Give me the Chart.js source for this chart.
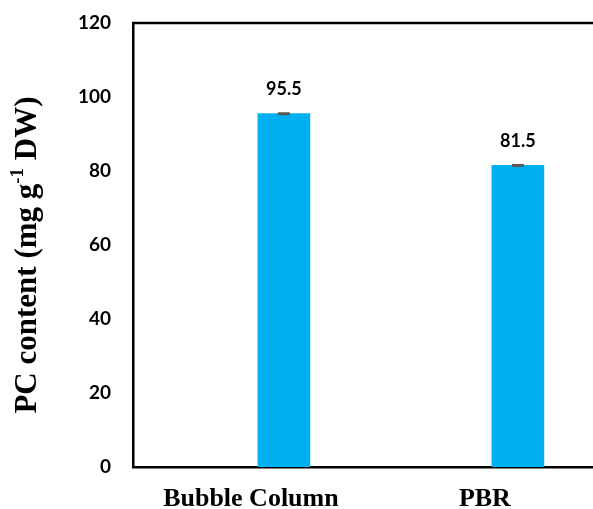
<!DOCTYPE html>
<html>
<head>
<meta charset="utf-8">
<script src="https://cdn.jsdelivr.net/npm/chart.js@4.4.0/dist/chart.umd.min.js"></script>
<style>
  html, body { margin: 0; padding: 0; background: #fff; overflow: hidden; }
  #wrap { width: 593px; height: 509px; position: relative; }
</style>
</head>
<body>
<div id="wrap"><canvas id="pc_chart"></canvas></div>
<script>
// data
const categories = ['Bubble Column', 'PBR'];
const pc_values = [95.5, 81.5];
const pc_errors = [0.2, 0.2];
const y_ticks = [0, 20, 40, 60, 80, 100, 120];

const barColour = '#00B0F0';

// error bars + value labels + top border + y title
const extras = {
    id: 'extras',
    afterDatasetsDraw(chart) {
        const ctx = chart.ctx;
        const ys = chart.scales.y;
        const area = chart.chartArea;
        const meta = chart.getDatasetMeta(0);

        ctx.save();
        // top frame line
        ctx.strokeStyle = '#000';
        ctx.lineWidth = 2.5;
        ctx.beginPath();
        ctx.moveTo(area.left - 1, area.top);
        ctx.lineTo(chart.width, area.top);
        ctx.stroke();

        meta.data.forEach(function (bar, i) {
            var hi = ys.getPixelForValue(pc_values[i] + pc_errors[i]);
            var lo = ys.getPixelForValue(pc_values[i] - pc_errors[i]);
            ctx.strokeStyle = '#595959';
            ctx.lineWidth = 1.5;
            ctx.beginPath();
            ctx.moveTo(bar.x - 6, hi); ctx.lineTo(bar.x + 6, hi);
            ctx.moveTo(bar.x - 6, lo); ctx.lineTo(bar.x + 6, lo);
            ctx.moveTo(bar.x, hi); ctx.lineTo(bar.x, lo);
            ctx.stroke();

            ctx.fillStyle = '#000';
            ctx.font = 'bold 18px Lato';
            ctx.textAlign = 'center';
            ctx.textBaseline = 'middle';
            ctx.fillText(pc_values[i].toFixed(1), bar.x, hi - 24);
        });

        // rotated y title with superscript
        var cy = 255;
        ctx.translate(28, cy);
        ctx.rotate(-Math.PI / 2);
        ctx.fillStyle = '#000';
        ctx.textBaseline = 'middle';
        ctx.textAlign = 'left';
        var main = 'bold 31px "Liberation Serif"';
        var sup = 'bold 19px "Liberation Serif"';
        var parts = [['PC content (mg g', main, 0], ['-1', sup, -10], [' DW)', main, 0]];
        var total = 0;
        parts.forEach(function (p) { ctx.font = p[1]; total += ctx.measureText(p[0]).width; });
        var x = -total / 2;
        parts.forEach(function (p) {
            ctx.font = p[1];
            ctx.fillText(p[0], x, p[2]);
            x += ctx.measureText(p[0]).width;
        });
        ctx.restore();
    }
};

const canvas = document.getElementById('pc_chart');
new Chart(canvas, {
    type: 'bar',
    data: {
        datasets: [{
            label: 'PC content',
            data: pc_values.map((v, i) => ({ x: i, y: v })),
            backgroundColor: barColour,
            borderWidth: 0,
            barThickness: 52,
        }]
    },
    options: {
        responsive: true,
        maintainAspectRatio: false,
        animation: false,
        layout: { padding: { top: 23, right: 0, left: 0, bottom: 0 } },
        plugins: {
            legend: { display: false },
            tooltip: { enabled: false },
        },
        scales: {
            x: {
                type: 'linear',
                offset: false,
                min: -0.645,
                max: 1.321,
                grid: { display: false, drawTicks: false, offset: false },
                border: { color: '#000', width: 2.5 },
                afterBuildTicks: function (scale) {
                    scale.ticks = categories.map((c, i) => ({ value: i }));
                },
                afterFit: function (scale) {
                    scale.height = 42;
                    scale.paddingLeft = 0;
                    scale.paddingRight = 0;
                },
                ticks: {
                    autoSkip: false,
                    maxRotation: 0,
                    padding: 17,
                    labelOffset: -33,
                    color: '#000',
                    font: { family: '"Liberation Serif"', weight: 'bold', size: 26 },
                    callback: function (v) { return categories[v]; }
                }
            },
            y: {
                min: 0,
                max: 120,
                afterBuildTicks: function (scale) {
                    scale.ticks = y_ticks.map(v => ({ value: v }));
                },
                afterFit: function (scale) {
                    scale.width = 133;
                    scale.paddingTop = 0;
                    scale.paddingBottom = 0;
                },
                grid: { display: false, drawTicks: false },
                border: { color: '#000', width: 2.5 },
                ticks: {
                    padding: 22,
                    color: '#000',
                    font: { family: 'Lato', weight: 'bold', size: 19 },
                }
            }
        }
    },
    plugins: [extras]
});
</script>
</body>
</html>
